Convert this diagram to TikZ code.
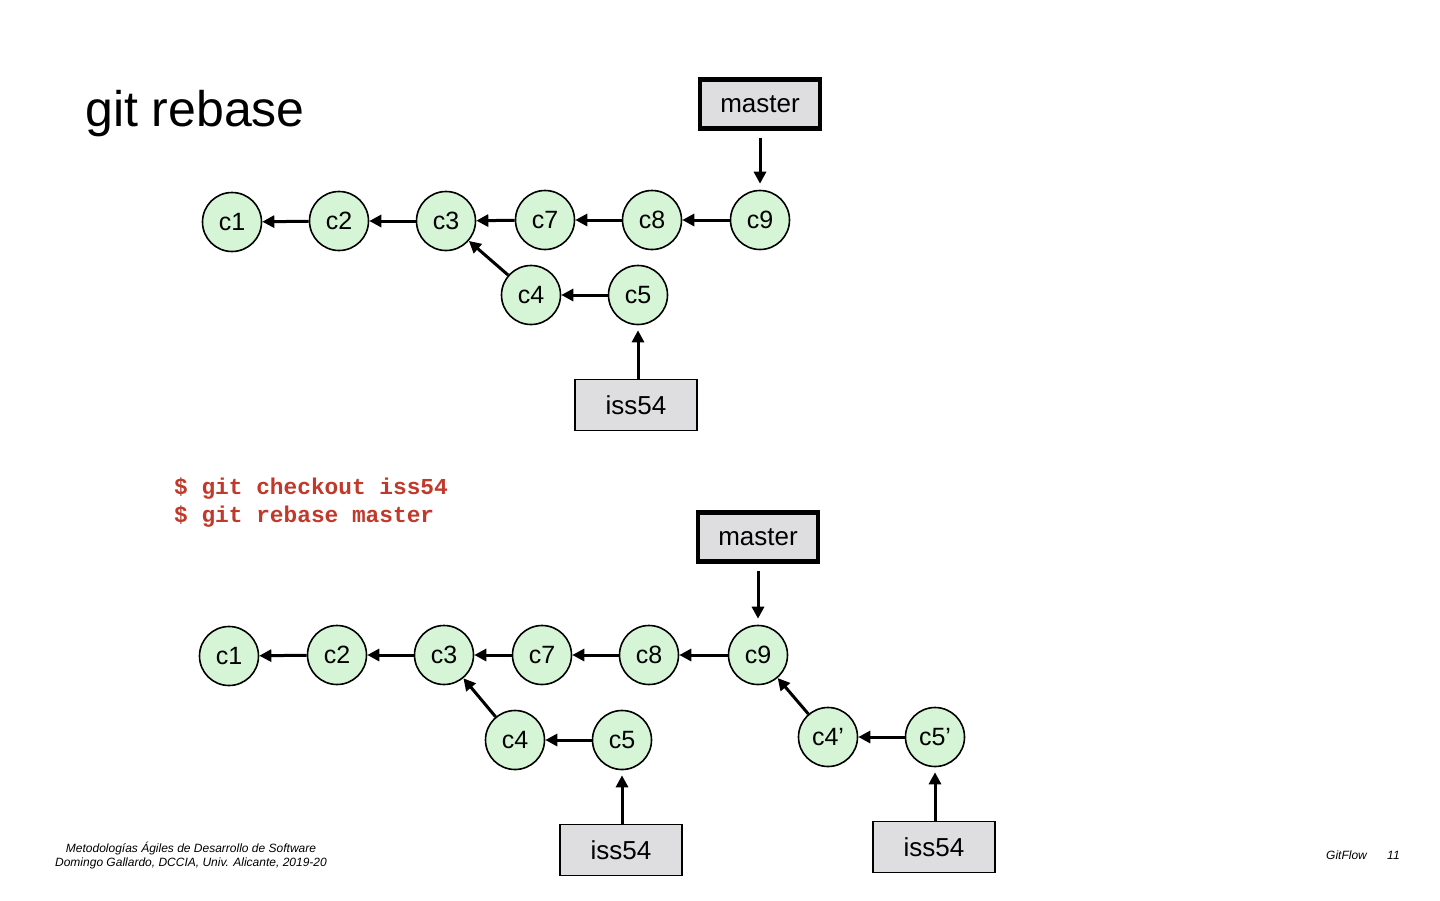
\documentclass[tikz,border=0pt]{standalone}
\usepackage{fontspec}
\setmainfont{Liberation Sans}
\newfontfamily\codefont{Liberation Mono}
\usetikzlibrary{arrows.meta}
\definecolor{cfill}{HTML}{D6F5D6}
\definecolor{bfill}{HTML}{DEDEE1}
\definecolor{codered}{HTML}{C0392B}
\begin{document}
\begin{tikzpicture}[x=1pt,y=-1pt,
  commit/.style={circle,draw=black,line width=1.6pt,fill=cfill,minimum size=59pt,inner sep=0pt,font=\fontsize{25}{28}\selectfont},
  branchbox/.style={rectangle,draw=black,line width=1.5pt,fill=bfill,minimum width=122pt,minimum height=51pt,inner sep=0pt,font=\fontsize{26}{29}\selectfont},
  headbox/.style={branchbox,line width=4.5pt,minimum width=120pt,minimum height=49pt},
  parent/.style={line width=3pt,-{Triangle[length=12pt,width=12pt]}},
  ref/.style={parent,shorten <=7pt,shorten >=6pt}]
\useasboundingbox (0,0) rectangle (1440,900);
\fill[white] (0,0) rectangle (1440,900);
\node[anchor=base west,font=\fontsize{50}{54}\selectfont,inner sep=0pt] (title) at (85,126) {git rebase};
% top graph
\node[commit] (a1) at (232,222) {c1};
\node[commit] (a2) at (339,221) {c2};
\node[commit] (a3) at (446,221) {c3};
\node[commit] (a7) at (545,220) {c7};
\node[commit] (a8) at (652,220) {c8};
\node[commit] (a9) at (760,220) {c9};
\node[commit] (a4) at (531,295) {c4};
\node[commit] (a5) at (638,295) {c5};
\node[headbox] (am) at (760,104) {master};
\node[branchbox] (ai) at (636,405) {iss54};
\draw[parent] (a2) -- (a1);
\draw[parent] (a3) -- (a2);
\draw[parent] (a7) -- (a3);
\draw[parent] (a8) -- (a7);
\draw[parent] (a9) -- (a8);
\draw[parent] (a5) -- (a4);
\draw[parent] (a4) -- (a3);
\draw[ref] (am.south -| a9) -- (a9);
\draw[parent,shorten >=5pt] (ai.north -| a5) -- (a5);
% commands
\node[anchor=base west,inner sep=0pt,align=left,text=codered,font=\codefont\bfseries\fontsize{22.8}{28}\selectfont] (cmd) at (174,522) {\$ git checkout iss54\\\$ git rebase master};
% bottom graph
\node[commit] (b1) at (229,656) {c1};
\node[commit] (b2) at (337,655) {c2};
\node[commit] (b3) at (444,655) {c3};
\node[commit] (b7) at (542,655) {c7};
\node[commit] (b8) at (649,655) {c8};
\node[commit] (b9) at (758,655) {c9};
\node[commit] (b4) at (515,740) {c4};
\node[commit] (b5) at (622,740) {c5};
\node[commit] (b4p) at (828,737) {c4’};
\node[commit] (b5p) at (935,737) {c5’};
\node[headbox] (bm) at (758,537) {master};
\node[branchbox] (bi) at (621,850) {iss54};
\node[branchbox] (bip) at (934,847) {iss54};
\draw[parent] (b2) -- (b1);
\draw[parent] (b3) -- (b2);
\draw[parent] (b7) -- (b3);
\draw[parent] (b8) -- (b7);
\draw[parent] (b9) -- (b8);
\draw[parent] (b5) -- (b4);
\draw[parent] (b4) -- (b3);
\draw[parent] (b5p) -- (b4p);
\draw[parent] (b4p) -- (b9);
\draw[ref] (bm.south -| b9) -- (b9);
\draw[parent,shorten >=5pt] (bi.north -| b5) -- (b5);
\draw[parent,shorten >=5pt] (bip.north -| b5p) -- (b5p);
% footer
\node[align=center,inner sep=0pt,font=\itshape\fontsize{12}{14}\selectfont] (foot) at (191,856) {Metodologías Ágiles de Desarrollo de Software\\Domingo Gallardo, DCCIA, Univ. Alicante, 2019-20};
\node[anchor=base west,inner sep=0pt,font=\itshape\fontsize{12}{14}\selectfont] (sec) at (1326,859) {GitFlow};
\node[anchor=base west,inner sep=0pt,font=\itshape\fontsize{12}{14}\selectfont] (pg) at (1387,859) {11};
\end{tikzpicture}
\end{document}
